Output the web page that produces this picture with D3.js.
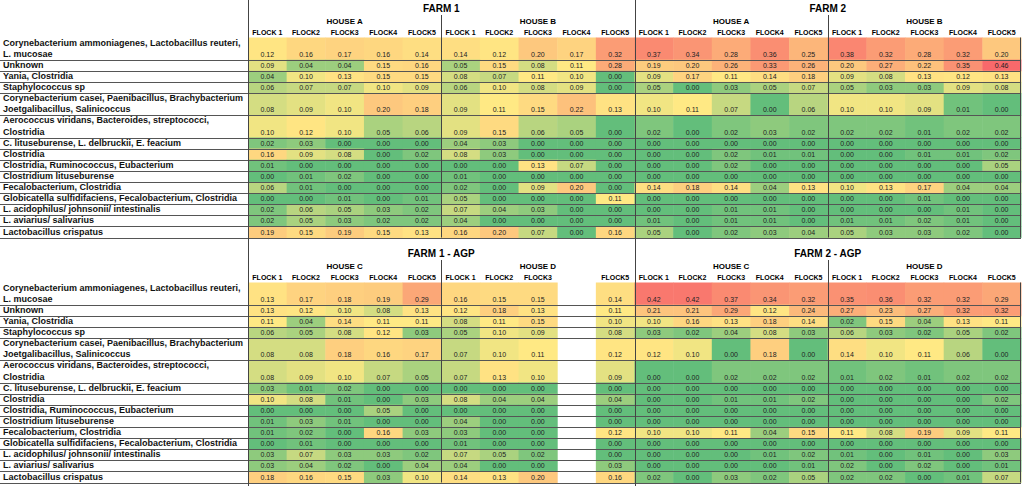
<!DOCTYPE html>
<html>
<head>
<meta charset="utf-8">
<script src="https://cdn.jsdelivr.net/npm/d3@7"></script>
<style>
  body { margin: 0; background: #fff; }
  text { font-family: "Liberation Sans", Arial, sans-serif; }
</style>
</head>
<body>
<div id="body"></div>
<script>
// taxa, one entry per row ("\n" = second line in the cell)
const taxa = [
  "Corynebacterium ammoniagenes, Lactobacillus reuteri,\nL. mucosae",
  "Unknown",
  "Yania, Clostridia",
  "Staphylococcus sp",
  "Corynebacterium casei, Paenibacillus, Brachybacterium\nJoetgalibacillus, Salinicoccus",
  "Aerococcus viridans, Bacteroides, streptococci,\nClostridia",
  "C. lituseburense, L. delbruckii, E. feacium",
  "Clostridia",
  "Clostridia, Ruminococcus, Eubacterium",
  "Clostridium lituseburense",
  "Fecalobacterium, Clostridia",
  "Globicatella sulfidifaciens, Fecalobacterium, Clostridia",
  "L. acidophilus/ johnsonii/ intestinalis",
  "L. aviarius/ salivarius",
  "Lactobacillus crispatus"
];

const flocks = ["FLOCK 1", "FLOCK2", "FLOCK3", "FLOCK4", "FLOCK5"];
const topFarms = ["FARM 1", "FARM 2"];
const topHouses = ["HOUSE A", "HOUSE B"];
const agpFarms = ["FARM 1 - AGP", "FARM 2 - AGP"];
const agpHouses = ["HOUSE C", "HOUSE D"];

// 10 columns per farm: house 1 flocks 1-5, house 2 flocks 1-5
const farm1 = [
  [0.12, 0.16, 0.17, 0.16, 0.14, 0.14, 0.12, 0.20, 0.17, 0.32],
  [0.09, 0.04, 0.04, 0.15, 0.16, 0.05, 0.15, 0.08, 0.11, 0.28],
  [0.04, 0.10, 0.13, 0.15, 0.15, 0.08, 0.07, 0.11, 0.10, 0.00],
  [0.06, 0.07, 0.07, 0.10, 0.09, 0.06, 0.10, 0.08, 0.09, 0.00],
  [0.08, 0.09, 0.10, 0.20, 0.18, 0.09, 0.11, 0.15, 0.22, 0.13],
  [0.10, 0.12, 0.10, 0.05, 0.06, 0.09, 0.15, 0.06, 0.05, 0.00],
  [0.02, 0.03, 0.00, 0.00, 0.00, 0.04, 0.03, 0.00, 0.00, 0.00],
  [0.16, 0.09, 0.08, 0.00, 0.02, 0.08, 0.03, 0.00, 0.00, 0.00],
  [0.01, 0.00, 0.00, 0.00, 0.00, 0.00, 0.00, 0.13, 0.07, 0.00],
  [0.00, 0.01, 0.02, 0.00, 0.00, 0.01, 0.00, 0.00, 0.00, 0.00],
  [0.06, 0.01, 0.00, 0.00, 0.00, 0.02, 0.00, 0.09, 0.20, 0.00],
  [0.00, 0.00, 0.01, 0.00, 0.01, 0.05, 0.00, 0.00, 0.00, 0.11],
  [0.02, 0.06, 0.05, 0.03, 0.02, 0.07, 0.04, 0.03, 0.00, 0.00],
  [0.02, 0.05, 0.03, 0.02, 0.02, 0.04, 0.00, 0.00, 0.00, 0.00],
  [0.19, 0.15, 0.19, 0.15, 0.13, 0.16, 0.20, 0.07, 0.00, 0.16]
];
const farm2 = [
  [0.37, 0.34, 0.28, 0.36, 0.25, 0.38, 0.32, 0.28, 0.32, 0.20],
  [0.19, 0.20, 0.26, 0.33, 0.26, 0.20, 0.27, 0.22, 0.35, 0.46],
  [0.09, 0.17, 0.11, 0.14, 0.18, 0.09, 0.08, 0.13, 0.12, 0.13],
  [0.05, 0.00, 0.03, 0.05, 0.07, 0.05, 0.03, 0.03, 0.09, 0.08],
  [0.10, 0.11, 0.07, 0.00, 0.06, 0.10, 0.10, 0.09, 0.01, 0.00],
  [0.02, 0.00, 0.02, 0.03, 0.02, 0.02, 0.02, 0.01, 0.02, 0.02],
  [0.00, 0.00, 0.00, 0.00, 0.00, 0.00, 0.00, 0.00, 0.00, 0.00],
  [0.00, 0.00, 0.02, 0.01, 0.01, 0.00, 0.00, 0.01, 0.01, 0.02],
  [0.00, 0.00, 0.02, 0.00, 0.00, 0.00, 0.00, 0.00, 0.00, 0.05],
  [0.00, 0.00, 0.00, 0.00, 0.00, 0.00, 0.00, 0.00, 0.00, 0.00],
  [0.14, 0.18, 0.14, 0.04, 0.13, 0.10, 0.13, 0.17, 0.04, 0.04],
  [0.00, 0.00, 0.00, 0.00, 0.00, 0.00, 0.00, 0.01, 0.00, 0.00],
  [0.00, 0.00, 0.01, 0.01, 0.00, 0.00, 0.00, 0.00, 0.01, 0.00],
  [0.01, 0.00, 0.01, 0.01, 0.00, 0.01, 0.01, 0.02, 0.01, 0.00],
  [0.05, 0.00, 0.02, 0.03, 0.04, 0.05, 0.03, 0.03, 0.02, 0.00]
];
// House D flock 4 has no data
const farm1Agp = [
  [0.13, 0.17, 0.18, 0.19, 0.29, 0.16, 0.15, 0.15, null, 0.14],
  [0.13, 0.12, 0.10, 0.08, 0.13, 0.12, 0.18, 0.13, null, 0.11],
  [0.11, 0.04, 0.14, 0.11, 0.11, 0.08, 0.11, 0.15, null, 0.10],
  [0.06, 0.05, 0.08, 0.12, 0.03, 0.05, 0.10, 0.09, null, 0.08],
  [0.08, 0.08, 0.18, 0.16, 0.17, 0.07, 0.10, 0.11, null, 0.12],
  [0.08, 0.09, 0.10, 0.07, 0.05, 0.07, 0.13, 0.10, null, 0.09],
  [0.03, 0.01, 0.02, 0.00, 0.00, 0.00, 0.00, 0.00, null, 0.00],
  [0.10, 0.08, 0.01, 0.00, 0.03, 0.08, 0.04, 0.04, null, 0.04],
  [0.00, 0.00, 0.00, 0.05, 0.00, 0.00, 0.00, 0.00, null, 0.00],
  [0.01, 0.03, 0.01, 0.00, 0.00, 0.04, 0.00, 0.00, null, 0.00],
  [0.01, 0.02, 0.00, 0.16, 0.03, 0.03, 0.00, 0.00, null, 0.12],
  [0.00, 0.01, 0.00, 0.00, 0.00, 0.01, 0.00, 0.00, null, 0.00],
  [0.03, 0.07, 0.03, 0.03, 0.02, 0.07, 0.05, 0.02, null, 0.00],
  [0.03, 0.04, 0.02, 0.00, 0.04, 0.04, 0.00, 0.00, null, 0.03],
  [0.18, 0.16, 0.15, 0.03, 0.10, 0.14, 0.13, 0.20, null, 0.16]
];
const farm2Agp = [
  [0.42, 0.42, 0.37, 0.34, 0.32, 0.35, 0.36, 0.32, 0.32, 0.29],
  [0.21, 0.21, 0.29, 0.12, 0.24, 0.27, 0.23, 0.27, 0.32, 0.32],
  [0.10, 0.16, 0.13, 0.18, 0.14, 0.02, 0.15, 0.04, 0.13, 0.11],
  [0.03, 0.02, 0.04, 0.08, 0.03, 0.06, 0.03, 0.02, 0.05, 0.02],
  [0.12, 0.10, 0.00, 0.18, 0.00, 0.14, 0.10, 0.11, 0.06, 0.00],
  [0.00, 0.00, 0.02, 0.02, 0.02, 0.01, 0.02, 0.01, 0.02, 0.02],
  [0.00, 0.00, 0.00, 0.00, 0.00, 0.00, 0.00, 0.00, 0.00, 0.00],
  [0.00, 0.00, 0.01, 0.01, 0.02, 0.00, 0.00, 0.00, 0.00, 0.02],
  [0.00, 0.00, 0.00, 0.00, 0.00, 0.00, 0.00, 0.00, 0.00, 0.00],
  [0.00, 0.00, 0.00, 0.00, 0.00, 0.00, 0.00, 0.00, 0.00, 0.00],
  [0.10, 0.10, 0.11, 0.04, 0.15, 0.11, 0.08, 0.19, 0.09, 0.11],
  [0.00, 0.00, 0.00, 0.00, 0.00, 0.00, 0.00, 0.00, 0.00, 0.00],
  [0.00, 0.00, 0.00, 0.01, 0.02, 0.01, 0.00, 0.01, 0.00, 0.03],
  [0.00, 0.00, 0.00, 0.00, 0.01, 0.02, 0.00, 0.02, 0.00, 0.01],
  [0.02, 0.00, 0.03, 0.02, 0.05, 0.02, 0.02, 0.00, 0.01, 0.07]
];

let width = 1024,
  height = 486;

const svg = d3.select("#body").append("svg")
  .attr("width", width)
  .attr("height", height);

// excel style 3 colour scale green - yellow - red
const color = d3.scaleLinear()
  .domain([0, 0.11, 0.46])
  .range(["#63be7b", "#ffe984", "#f8696b"]);

// 20 flock columns after the label column
const x = d3.scaleBand().domain(d3.range(20)).range([248, 1021]);

// rows have 1 or 2 text lines, y works in line units
const lineCount = taxa.map((t) => t.split("\n").length);
const lineStart = lineCount.map((c, i) => d3.sum(lineCount.slice(0, i)));
const y = d3.scaleLinear().domain([0, d3.sum(lineCount)]).range([37.5, 237.5]);
const lineH = y(1) - y(0);

const blocks = [
  { top: 0, farms: topFarms, houses: topHouses, values: [farm1, farm2] },
  { top: 245, farms: agpFarms, houses: agpHouses, values: [farm1Agp, farm2Agp] }
];

blocks.forEach(function(b) {
  let g = svg.append("g").attr("transform", "translate(0," + b.top + ")");

  // flatten into cells
  let cells = [];
  b.values.forEach(function(m, f) {
    m.forEach(function(row, r) {
      row.forEach(function(v, j) {
        if (v != null) cells.push({ col: f * 10 + j, row: r, v: v });
      });
    });
  });

  g.selectAll(".cell")
    .data(cells)
    .enter()
    .append("rect")
    .attr("class", "cell")
    .attr("x", (d) => x(d.col))
    .attr("y", (d) => y(lineStart[d.row]))
    .attr("width", x.bandwidth() + 0.5)
    .attr("height", (d) => y(lineStart[d.row] + lineCount[d.row]) - y(lineStart[d.row]) + 0.5)
    .style("fill", (d) => color(d.v));

  g.selectAll(".val")
    .data(cells)
    .enter()
    .append("text")
    .attr("class", "val")
    .attr("x", (d) => x(d.col) + x.bandwidth() / 2)
    .attr("y", (d) => y(lineStart[d.row] + lineCount[d.row]) - 3)
    .attr("text-anchor", "middle")
    .style("font-size", "7px")
    .style("fill", "#222")
    .text((d) => d.v.toFixed(2));

  // row labels
  taxa.forEach(function(t, r) {
    t.split("\n").forEach(function(line, k) {
      g.append("text")
        .attr("x", 3)
        .attr("y", y(lineStart[r] + k + 1) - 3)
        .style("font-size", "9px")
        .style("font-weight", "bold")
        .style("fill", "#111")
        .text(line);
    });
  });

  // row lines
  taxa.forEach(function(t, r) {
    let yy = Math.round(y(lineStart[r] + lineCount[r])) + 0.5;
    g.append("line")
      .attr("x1", 0).attr("x2", x(19) + x.bandwidth())
      .attr("y1", yy).attr("y2", yy)
      .style("stroke", "#555")
      .style("stroke-width", 1);
  });

  // headers
  b.farms.forEach(function(name, f) {
    g.append("text")
      .attr("x", (x(f * 10) + x(f * 10 + 9) + x.bandwidth()) / 2)
      .attr("y", 12)
      .attr("text-anchor", "middle")
      .style("font-size", "10px")
      .style("font-weight", "bold")
      .text(name);

    b.houses.forEach(function(h, k) {
      let c0 = f * 10 + k * 5;
      g.append("text")
        .attr("x", (x(c0) + x(c0 + 4) + x.bandwidth()) / 2)
        .attr("y", 23.5)
        .attr("text-anchor", "middle")
        .style("font-size", "8px")
        .style("font-weight", "bold")
        .text(h);

      flocks.forEach(function(fl, j) {
        let hasData = b.values[f].some((row) => row[k * 5 + j] != null);
        if (!hasData) return;
        g.append("text")
          .attr("x", x(c0 + j) + x.bandwidth() / 2)
          .attr("y", 34.5)
          .attr("text-anchor", "middle")
          .style("font-size", "7px")
          .style("font-weight", "bold")
          .text(fl);
      });
    });
  });

  // vertical separators
  [0, 10].forEach(function(c) {
    let xx = Math.round(x(c)) + 0.5;
    g.append("line")
      .attr("x1", xx).attr("x2", xx)
      .attr("y1", 0).attr("y2", b.top ? 241 : 245)
      .style("stroke", "#444");
  });
  [5, 15].forEach(function(c) {
    let xx = Math.round(x(c)) + 0.5;
    g.append("line")
      .attr("x1", xx).attr("x2", xx)
      .attr("y1", 15).attr("y2", y.range()[1])
      .style("stroke", "#444");
  });
  let xr = Math.round(x(19) + x.bandwidth()) - 0.5;
  g.append("line")
    .attr("x1", xr).attr("x2", xr)
    .attr("y1", y.range()[0]).attr("y2", y.range()[1])
    .style("stroke", "#444");
});
</script>
</body>
</html>
